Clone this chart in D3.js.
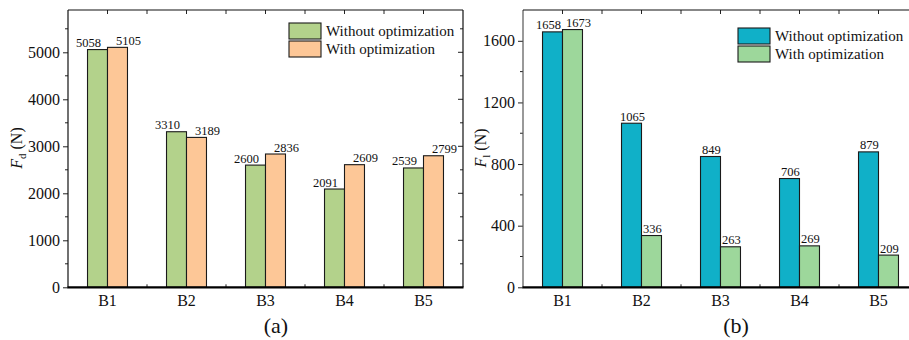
<!DOCTYPE html>
<html>
<head>
<meta charset="utf-8">
<script src="https://cdn.jsdelivr.net/npm/d3@7/dist/d3.min.js"></script>
<style>
  html, body { margin: 0; padding: 0; background: #fff; }
  svg { display: block; }
  svg text { font-family: "Liberation Serif", "Times New Roman", serif; }
</style>
</head>
<body>
<svg id="chart" width="909" height="340"></svg>
<script>
// Bearing forces B1–B5, before and after optimization
const categories = ["B1", "B2", "B3", "B4", "B5"];
const seriesNames = ["Without optimization", "With optimization"];

const fdWithout = [5058, 3310, 2600, 2091, 2539];
const fdWith    = [5105, 3189, 2836, 2609, 2799];
const fdTicks   = [0, 1000, 2000, 3000, 4000, 5000];
const fdMinor   = [500, 1500, 2500, 3500, 4500, 5500];

const flWithout = [1658, 1065, 849, 706, 879];
const flWith    = [1673, 336, 263, 269, 209];
const flTicks   = [0, 400, 800, 1200, 1600];
const flMinor   = [200, 600, 1000, 1400];

const svg = d3.select("#chart");
const FONT = "Liberation Serif";

function drawPanel(cfg) {
  const g = svg.append("g").attr("font-family", FONT);
  const top = 10, bottom = 287.3;

  const x = d3.scaleBand().domain(categories)
    .range([cfg.left, cfg.left + 79 * categories.length])
    .paddingInner(0.494).paddingOuter(0.247);
  const xs = d3.scaleBand().domain([0, 1]).range([0, x.bandwidth()]);
  const y = d3.scaleLinear().domain([0, cfg.max]).range([bottom, top]);
  const right = cfg.left + 79 * categories.length;

  // bars
  const groups = g.selectAll("g.grp").data(categories).enter().append("g")
    .attr("transform", d => `translate(${x(d)},0)`);
  groups.each(function (c, i) {
    const vals = [cfg.a[i], cfg.b[i]];
    d3.select(this).selectAll("rect").data(vals).enter().append("rect")
      .attr("x", (d, j) => xs(j))
      .attr("y", d => y(d))
      .attr("width", xs.bandwidth())
      .attr("height", d => bottom - y(d))
      .attr("fill", (d, j) => cfg.colors[j])
      .attr("stroke", "#1a1a1a")
      .attr("stroke-width", 1.1);

    // value labels
    const w = 26;
    const pos = vals.map((d, j) => {
      if (cfg.labelMode === "edge") return j === 0 ? xs(0) + 1 : xs(1) + xs.bandwidth() + 1;
      return xs(j) + xs.bandwidth() / 2 + 1;
    });
    if (cfg.labelMode !== "edge" && Math.abs(y(vals[0]) - y(vals[1])) < 14) {
      const gap = pos[1] - pos[0];
      if (gap < w + 4) { const s = (w + 4 - gap) / 2; pos[0] -= s; pos[1] += s; }
    }
    d3.select(this).selectAll("text").data(vals).enter().append("text")
      .attr("x", (d, j) => pos[j])
      .attr("y", d => y(d) - 2.5)
      .attr("text-anchor", "middle")
      .attr("font-family", FONT)
      .attr("font-size", 12.5)
      .attr("fill", "#111")
      .text(d => d);
  });

  // left axis with ticks outward
  const yAxis = d3.axisLeft(y).tickValues(cfg.ticks).tickSize(5).tickPadding(3).tickFormat(d3.format("d"));
  const ya = g.append("g").attr("transform", `translate(${cfg.left},0)`).call(yAxis)
    .attr("font-family", FONT);
  ya.select(".domain").remove();
  ya.selectAll("text").attr("font-size", 16).attr("font-family", FONT).attr("fill", "#111");
  ya.selectAll("line").attr("stroke", "#222");
  g.selectAll(null).data(cfg.minor).enter().append("line")
    .attr("x1", cfg.left - 3).attr("x2", cfg.left)
    .attr("y1", d => y(d)).attr("y2", d => y(d)).attr("stroke", "#222");

  // right mirror ticks (inward)
  g.selectAll(null).data(cfg.ticks.slice(1)).enter().append("line")
    .attr("x1", right - 5).attr("x2", right)
    .attr("y1", d => y(d)).attr("y2", d => y(d)).attr("stroke", "#222");
  g.selectAll(null).data(cfg.minor).enter().append("line")
    .attr("x1", right - 3).attr("x2", right)
    .attr("y1", d => y(d)).attr("y2", d => y(d)).attr("stroke", "#222");

  // top ticks at categories and between (inward)
  const topTicks = categories.map(c => x(c) + x.bandwidth() / 2)
    .concat(categories.slice(1).map(c => x(c) + x.bandwidth() / 2 - x.step() / 2));
  g.selectAll(null).data(topTicks).enter().append("line")
    .attr("x1", d => d).attr("x2", d => d)
    .attr("y1", top).attr("y2", top + 4).attr("stroke", "#222");
  // bottom minor ticks between categories
  g.selectAll(null).data(categories.slice(1)).enter().append("line")
    .attr("x1", c => x(c) + x.bandwidth() / 2 - x.step() / 2)
    .attr("x2", c => x(c) + x.bandwidth() / 2 - x.step() / 2)
    .attr("y1", bottom - 3).attr("y2", bottom).attr("stroke", "#222");

  // frame
  g.append("line").attr("x1", cfg.left).attr("x2", cfg.left).attr("y1", top).attr("y2", bottom)
    .attr("stroke", cfg.leftAxisColor).attr("stroke-width", 1.2);
  g.append("line").attr("x1", right).attr("x2", right).attr("y1", top).attr("y2", bottom)
    .attr("stroke", "#111").attr("stroke-width", 1.2);
  g.append("line").attr("x1", cfg.left).attr("x2", right).attr("y1", top).attr("y2", top)
    .attr("stroke", "#111").attr("stroke-width", 1.2);
  g.append("line").attr("x1", cfg.left - 0.5).attr("x2", right + 0.5).attr("y1", bottom).attr("y2", bottom)
    .attr("stroke", "#000").attr("stroke-width", 2.2);

  // category labels
  g.selectAll(null).data(categories).enter().append("text")
    .attr("x", c => x(c) + x.bandwidth() / 2)
    .attr("y", 306)
    .attr("text-anchor", "middle")
    .attr("font-family", FONT)
    .attr("font-size", 16).attr("fill", "#111")
    .text(c => c);

  // y-axis title: italic F with subscript
  const t = g.append("text")
    .attr("transform", `translate(${cfg.titleX},148) rotate(-90)`)
    .attr("text-anchor", "middle")
    .attr("font-family", FONT)
    .attr("font-size", 16).attr("fill", "#111");
  t.append("tspan").attr("font-style", "italic").text("F");
  t.append("tspan").attr("font-size", 11).attr("dy", 4).text(cfg.sub);
  t.append("tspan").attr("dy", -4).text(" (N)");

  // legend
  seriesNames.forEach((name, j) => {
    const ly = cfg.legendY + j * 18;
    g.append("rect").attr("x", cfg.legendX).attr("y", ly).attr("width", 32).attr("height", 16)
      .attr("fill", cfg.colors[j]).attr("stroke", "#1a1a1a").attr("stroke-width", 1.1);
    g.append("text").attr("x", cfg.legendX + 37).attr("y", ly + 13)
      .attr("font-family", FONT)
      .attr("font-size", 15).attr("fill", "#111").text(name);
  });

  // panel tag
  g.append("text").attr("x", cfg.tagX).attr("y", 333)
    .attr("text-anchor", "middle").attr("font-size", 22).attr("fill", "#111")
    .attr("font-family", FONT)
    .text(cfg.tag);
}

drawPanel({
  left: 68, max: 5900, a: fdWithout, b: fdWith,
  ticks: fdTicks, minor: fdMinor,
  colors: ["#b3d28b", "#fdc797"],
  labelMode: "edge", sub: "d", titleX: 22,
  legendX: 289, legendY: 23, tag: "(a)", tagX: 276,
  leftAxisColor: "#111"
});

drawPanel({
  left: 523, max: 1800, a: flWithout, b: flWith,
  ticks: flTicks, minor: flMinor,
  colors: ["#10b0c8", "#9dd79b"],
  labelMode: "center", sub: "l", titleX: 486,
  legendX: 738, legendY: 28, tag: "(b)", tagX: 736,
  leftAxisColor: "#555"
});
</script>
</body>
</html>
